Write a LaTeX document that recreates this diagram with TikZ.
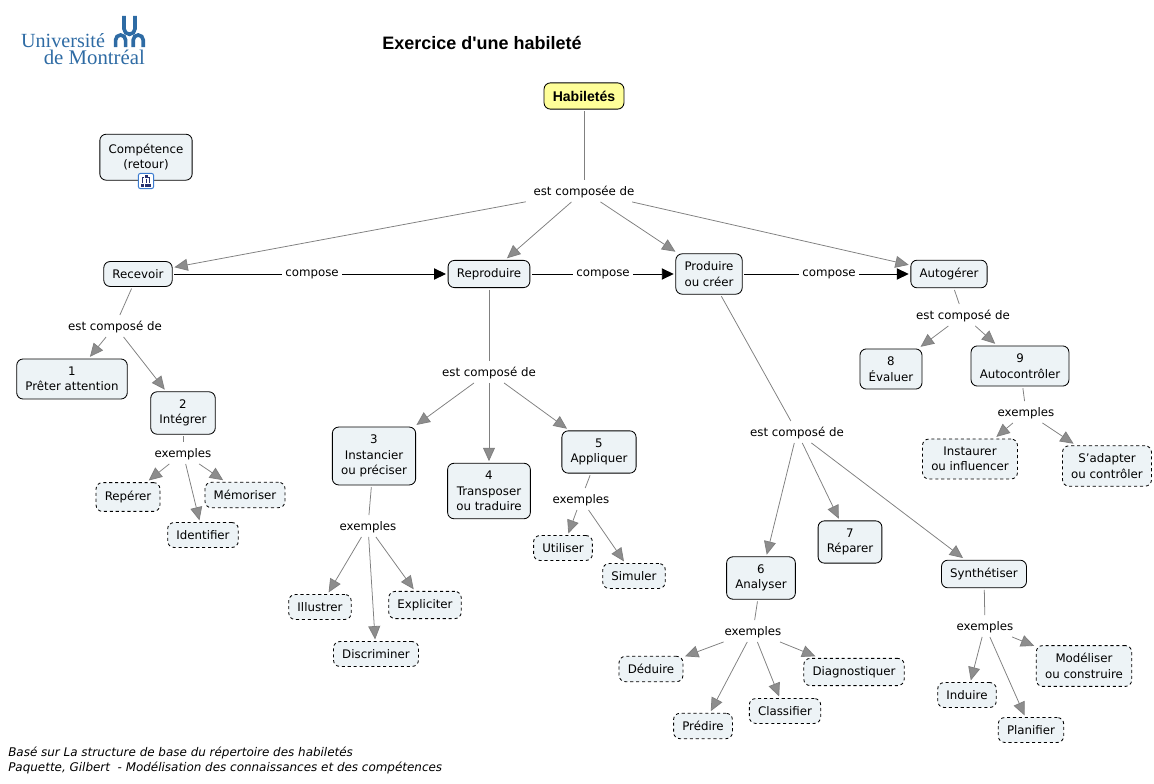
\documentclass[tikz,border=0pt]{standalone}
\usepackage{fontspec}
\setmainfont{DejaVu Sans}
\newfontfamily\arialfont{Liberation Sans}
\newfontfamily\logofont{Liberation Serif}
\usetikzlibrary{positioning,arrows.meta}
\definecolor{boxfill}{HTML}{EDF3F6}
\definecolor{rootfill}{HTML}{FFFF99}
\definecolor{linkgray}{HTML}{808080}
\definecolor{logoblue}{HTML}{2E6BA4}
\definecolor{iconblue}{HTML}{3B7BD0}
\definecolor{iconnavy}{HTML}{27306E}

\tikzset{
    box/.style={draw=black, line width=0.6pt, fill=boxfill, rounded corners=4.5pt, align=center,
        font=\fontsize{8.4pt}{11pt}\selectfont, inner xsep=6.2pt, inner ysep=5.6pt, outer sep=1.5pt},
    dashbox/.style={box, dash pattern=on 2.2pt off 2pt},
    rootbox/.style={box, fill=rootfill, font=\arialfont\bfseries\fontsize{10pt}{11pt}\selectfont},
    lbl/.style={font=\fontsize{8.4pt}{11pt}\selectfont, inner xsep=2pt, inner ysep=1pt, outer sep=3.5pt, text height=6.6pt, text depth=0pt},
    complbl/.style={lbl, text height=6.5pt, text depth=3.5pt, outer sep=0.5pt},
    link/.style={draw=linkgray, line width=0.55pt},
    linkto/.style={link, -{Triangle[length=9.5pt, width=8.5pt, fill=linkgray!90!white]}},
    flow/.style={draw=black, line width=0.7pt},
    flowto/.style={flow, -{Triangle[length=8.5pt, width=8pt]}},
    note/.style={anchor=west, inner sep=0pt, font=\itshape\fontsize{8.5pt}{11pt}\selectfont},
    logotext/.style={anchor=base east, inner sep=0pt, text=logoblue, font=\logofont\fontsize{14.8pt}{15pt}\selectfont},
    logostroke/.style={draw=logoblue, line width=2.6pt},
    iconpart/.style={fill=iconnavy, inner sep=0pt, minimum size=0.075cm},
}

\begin{document}
\begin{tikzpicture}[on grid]
    \useasboundingbox (0,0) rectangle (28.85,-19.6);

    % header
    \node [logotext, font=\logofont\fontsize{14.3pt}{15pt}\selectfont] (logoa) at (2.63,-1.175) {Université};
    \node [logotext] (logob) at (3.63,-1.6) {de Montréal};
    \draw [logostroke] (2.89,-1.18) -- (2.89,-1.0) arc (180:0:0.125) -- (3.14,-1.18);
    \draw [logostroke] (3.33,-1.18) -- (3.33,-1.0) arc (180:0:0.125) -- (3.58,-1.18);
    \draw [logostroke] (3.1,-0.4) -- (3.1,-0.72) arc (180:360:0.1375) -- (3.375,-0.4);
    \node [inner sep=0pt, font=\arialfont\bfseries\fontsize{12.8pt}{14pt}\selectfont] (titre) at (12.05,-1.07) {Exercice d'une habileté};

    % side node with its icon
    \node [box, minimum width=2.25cm, minimum height=1.15cm] (competence) at (3.65,-3.93) {Compétence\\(retour)};
    \node [draw=iconblue, fill=white, rounded corners=1.5pt, line width=0.7pt, minimum size=0.38cm, inner sep=0pt] (icone) at (3.65,-4.525) {};
    \node [iconpart] (icontop) at (3.65,-4.42) {};
    \node [iconpart] (iconl) at (3.56,-4.63) {};
    \node [iconpart] (iconm) at (3.65,-4.63) {};
    \node [iconpart] (iconr) at (3.74,-4.63) {};
    \draw [iconnavy, line width=0.35pt] (icontop) -- (iconm) (iconl) |- (icontop) (iconr) |- (icontop);

    % top level
    \node [rootbox] (habiletes) at (14.6,-2.4) {Habiletés};
    \node [lbl, below=2.375cm of habiletes] (lbltop) {est composée de};
    \node [box, below left=2.075cm and 11.15cm of lbltop] (recevoir) {Recevoir};
    \node [box, below left=2.075cm and 2.375cm of lbltop] (reproduire) {Reproduire};
    \node [box, below right=2.075cm and 3.125cm of lbltop] (produire) {Produire\\ou créer};
    \node [box, below right=2.075cm and 9.125cm of lbltop] (autogerer) {Autogérer};
    \node [complbl, right=4.35cm of recevoir] (composea) {compose};
    \node [complbl, right=2.85cm of reproduire] (composeb) {compose};
    \node [complbl, right=3cm of produire] (composec) {compose};

    % recevoir
    \node [lbl, below left=1.3cm and 0.575cm of recevoir] (lblrec) {est composé de};
    \node [box, below left=1.325cm and 1.075cm of lblrec] (preter) {1\\Prêter attention};
    \node [box, below right=2.175cm and 1.7cm of lblrec] (integrer) {2\\Intégrer};
    \node [lbl, below=1cm of integrer] (exint) {exemples};
    \node [dashbox, minimum height=0.72cm, below left=1.1cm and 1.375cm of exint] (reperer) {Repérer};
    \node [dashbox, below right=2.05cm and 0.5cm of exint] (identifier) {Identifier};
    \node [dashbox, below right=1.05cm and 1.55cm of exint] (memoriser) {Mémoriser};

    % reproduire
    \node [lbl, below=2.45cm of reproduire] (lblrep) {est composé de};
    \node [box, below left=2.1cm and 2.875cm of lblrep] (instancier) {3\\Instancier\\ou préciser};
    \node [box, below=2.975cm of lblrep] (transposer) {4\\Transposer\\ou traduire};
    \node [box, below right=2cm and 2.75cm of lblrep] (appliquer) {5\\Appliquer};
    \node [lbl, below left=1.75cm and 0.15cm of instancier] (exins) {exemples};
    \node [dashbox, below left=2.025cm and 1.2cm of exins] (illustrer) {Illustrer};
    \node [dashbox, below right=3.2cm and 0.2cm of exins] (discriminer) {Discriminer};
    \node [dashbox, below right=1.975cm and 1.425cm of exins] (expliciter) {Expliciter};
    \node [lbl, below left=1.175cm and 0.45cm of appliquer] (exapp) {exemples};
    \node [dashbox, below left=1.225cm and 0.45cm of exapp] (utiliser) {Utiliser};
    \node [dashbox, below right=1.925cm and 1.325cm of exapp] (simuler) {Simuler};

    % produire
    \node [lbl, below right=3.95cm and 2.2cm of produire] (lblpro) {est composé de};
    \node [box, below left=3.65cm and 0.9cm of lblpro] (analyser) {6\\Analyser};
    \node [box, below right=2.75cm and 1.325cm of lblpro] (reparer) {7\\Réparer};
    \node [box, below right=3.55cm and 4.675cm of lblpro] (synthetiser) {Synthétiser};
    \node [lbl, below left=1.325cm and 0.2cm of analyser] (exana) {exemples};
    \node [dashbox, below left=0.95cm and 2.55cm of exana] (deduire) {Déduire};
    \node [dashbox, below left=2.375cm and 1.25cm of exana] (predire) {Prédire};
    \node [dashbox, below right=2cm and 0.8cm of exana] (classifier) {Classifier};
    \node [dashbox, below right=1.025cm and 2.525cm of exana] (diagnostiquer) {Diagnostiquer};
    \node [lbl, below right=1.3cm and 0.025cm of synthetiser] (exsyn) {exemples};
    \node [dashbox, below left=1.725cm and 0.45cm of exsyn] (induire) {Induire};
    \node [dashbox, below right=2.6cm and 1.15cm of exsyn] (planifier) {Planifier};
    \node [dashbox, below right=1cm and 2.475cm of exsyn] (modeliser) {Modéliser\\ou construire};

    % autogerer
    \node [lbl, below right=1.025cm and 0.35cm of autogerer] (lblaut) {est composé de};
    \node [box, below left=1.35cm and 1.8cm of lblaut] (evaluer) {8\\Évaluer};
    \node [box, below right=1.275cm and 1.425cm of lblaut] (autocontroler) {9\\Autocontrôler};
    \node [lbl, below right=1.15cm and 0.15cm of autocontroler] (exaut) {exemples};
    \node [dashbox, below left=1.175cm and 1.4cm of exaut] (instaurer) {Instaurer\\ou influencer};
    \node [dashbox, below right=1.35cm and 2.025cm of exaut] (sadapter) {S'adapter\\ou contrôler};

    % footer
    \node [note] (notea) at (0.2,-18.82) {Basé sur La structure de base du répertoire des habiletés};
    \node [note] (noteb) at (0.2,-19.2) {Paquette, Gilbert\ \ - Modélisation des connaissances et des compétences};

    % connectors
    \draw [link] (habiletes) -- (lbltop);
    \draw [linkto] (lbltop) -- (recevoir);
    \draw [linkto] (lbltop) -- (reproduire);
    \draw [linkto] (lbltop) -- (produire);
    \draw [linkto] (lbltop) -- (autogerer);
    \draw [flow] (recevoir) -- (composea);
    \draw [flowto] (composea) -- (reproduire);
    \draw [flow] (reproduire) -- (composeb);
    \draw [flowto] (composeb) -- (produire);
    \draw [flow] (produire) -- (composec);
    \draw [flowto] (composec) -- (autogerer);

    \draw [link] (recevoir) -- (lblrec);
    \draw [linkto] (lblrec) -- (preter);
    \draw [linkto] (lblrec) -- (integrer);
    \draw [link] (integrer) -- (exint);
    \draw [linkto] (exint) -- (reperer);
    \draw [linkto] (exint) -- (identifier);
    \draw [linkto] (exint) -- (memoriser);

    \draw [link] (reproduire) -- (lblrep);
    \draw [linkto] (lblrep) -- (instancier);
    \draw [linkto] (lblrep) -- (transposer);
    \draw [linkto] (lblrep) -- (appliquer);
    \draw [link] (instancier) -- (exins);
    \draw [linkto] (exins) -- (illustrer);
    \draw [linkto] (exins) -- (discriminer);
    \draw [linkto] (exins) -- (expliciter);
    \draw [link] (appliquer) -- (exapp);
    \draw [linkto] (exapp) -- (utiliser);
    \draw [linkto] (exapp) -- (simuler);

    \draw [link] (produire) -- (lblpro);
    \draw [linkto] (lblpro) -- (analyser);
    \draw [linkto] (lblpro) -- (reparer);
    \draw [linkto] (lblpro) -- (synthetiser);
    \draw [link] (analyser) -- (exana);
    \draw [linkto] (exana) -- (deduire);
    \draw [linkto] (exana) -- (predire);
    \draw [linkto] (exana) -- (classifier);
    \draw [linkto] (exana) -- (diagnostiquer);
    \draw [link] (synthetiser) -- (exsyn);
    \draw [linkto] (exsyn) -- (induire);
    \draw [linkto] (exsyn) -- (planifier);
    \draw [linkto] (exsyn) -- (modeliser);

    \draw [link] (autogerer) -- (lblaut);
    \draw [linkto] (lblaut) -- (evaluer);
    \draw [linkto] (lblaut) -- (autocontroler);
    \draw [link] (autocontroler) -- (exaut);
    \draw [linkto] (exaut) -- (instaurer);
    \draw [linkto] (exaut) -- (sadapter);
\end{tikzpicture}
\end{document}
